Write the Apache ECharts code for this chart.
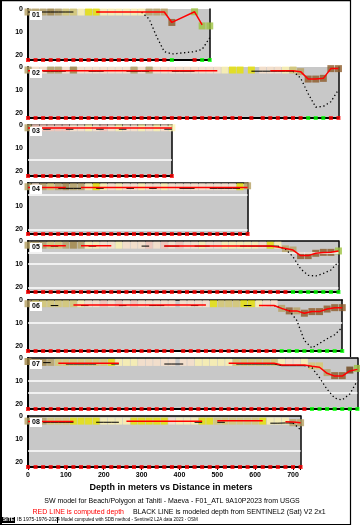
<!DOCTYPE html>
<html><head><meta charset="utf-8">
<script src="https://cdn.jsdelivr.net/npm/echarts@6/dist/echarts.min.js"></script>
<style>html,body{margin:0;padding:0;background:#fff}#c{width:360px;height:525px}</style>
</head><body><div id="c"></div>
<script>
// ---------- DATA ----------
const panelLabels = ['01','02','03','04','05','06','07','08'];
const panelExtent = [480, 820, 380, 580, 820, 830, 870, 720];
const xTickLabels = [0,100,200,300,400,500,600,700];
const yTickLabels = [0,10,20];

// Panel 1
const p1Dist  = [0,20,40,60,80,100,120,140,160,180,200,220,240,260,280,300,320,340,360,380,440,460,480];
const p1Col   = 'TTTDTKKPYYPPPPPPTTTBGGG';
const p1Depth = [1.3,1.3,1.3,1.3,1.3,1.3,1.3,1.3,1.3,1.3,1.3,1.3,1.3,1.3,1.3,1.3,1.3,1.3,1.3,5.8,1.2,7.3,7.3];
const p1Red   = [null,null,null,null,null,null,null,null,null,1.3,1.3,1.3,1.3,1.3,1.3,1.3,1.3,1.3,1.3,5.8,1.2,6.8,null];
const p1Model = [1.3,1.3,1.3,1.3,1.3,1.3,1.3,null,null,null,null,null,null,null,null,1.4,4.3,12,18.4,19.4,18.4,17.4,12.4];
const p1Bottom = 'rrrrrrrrrrrrrrrrrrrgrgg';
const p1White = [];

// Panel 2
const p2Dist  = [0,20,40,60,80,100,120,140,160,180,200,220,240,260,280,300,320,340,360,380,400,420,440,460,480,500,520,540,560,590,620,640,660,680,700,720,740,760,780,800,820];
const p2Col   = 'TEETTEDEEEEEEETETEEEEEEEEEPYYYEEEPKTBBBBB';
const p2Depth = [1.3,1.3,1.3,1.3,1.3,1.3,1.3,1.3,1.3,1.3,1.3,1.3,1.3,1.3,1.3,1.3,1.3,1.3,1.3,1.3,1.3,1.3,1.3,1.3,1.3,1.3,1.3,1.3,1.3,1.3,1.3,1.3,1.3,1.3,1.3,2.0,5.2,5.2,4.9,0.7,0.7];
const p2Red   = [1.6,1.6,1.6,1.6,1.6,1.6,1.6,1.6,1.6,1.6,1.6,1.6,1.6,1.6,1.6,1.6,1.6,1.6,1.6,1.6,1.6,1.6,1.6,1.6,1.6,1.6,null,null,null,null,null,1.6,1.6,1.6,1.6,2.0,5.2,5.2,4.9,0.7,0.7];
const p2Model = [null,null,1.8,1.8,1.8,1.8,null,null,1.8,1.8,1.8,null,null,1.8,1.8,1.8,1.8,null,null,1.8,1.8,1.8,1.8,null,null,null,null,null,null,1.8,1.8,1.8,1.8,1.8,1.8,4.8,11.5,17.3,17,15,9.8];
const p2Bottom = 'rrrrrrrrrrrrrrrrrrrrrrrrrrrrrrrrrrrrgggrr';
const p2White = [];

// Panel 3
const p3Dist  = [0,20,40,60,80,100,120,140,160,180,200,220,240,260,280,300,320,340,360,380];
const p3Col   = 'TSSSSSEEPESEPEEPEPEP';
const p3Depth = [1.2,1.2,1.2,1.2,1.2,1.2,1.2,1.2,1.2,1.2,1.2,1.2,1.2,1.2,1.2,1.2,1.2,1.2,1.2,1.2];
const p3Red   = [1.3,1.3,1.3,1.3,1.3,1.3,1.3,1.3,1.3,1.3,1.3,1.3,1.3,1.3,1.3,1.3,1.3,1.3,1.3,1.3];
const p3Model = [null,null,1.8,1.8,null,1.8,1.8,null,null,1.8,1.8,null,1.8,1.8,null,null,null,null,1.8,1.8];
const p3Bottom = 'rrrrrrrrrrrrrrrrrrrr';
const p3White = [15];

// Panel 4
const p4Dist  = [0,20,40,60,80,100,120,140,160,180,200,220,240,260,280,300,320,340,360,380,400,420,440,460,480,500,520,540,560,580];
const p4Col   = 'TETKTDTTPYPEPEEPEEPEEEEEEEEEYT';
const p4Depth = [1.6,1.6,1.6,1.6,1.6,1.6,1.6,1.6,1.6,1.6,1.6,1.6,1.6,1.6,1.6,1.6,1.6,1.6,1.6,1.6,1.6,1.6,1.6,1.6,1.6,1.6,1.6,1.6,1.6,1.2];
const p4Red   = [1.9,1.9,1.9,1.9,1.9,1.9,null,1.9,1.9,1.9,1.9,1.9,1.9,1.9,1.9,1.9,1.9,1.9,1.9,1.9,1.9,1.9,1.9,1.9,1.9,1.9,1.9,1.9,1.9,1.9];
const p4Model = [null,null,null,null,2.3,2.3,2.3,2.3,null,2.3,2.3,null,null,2.3,2.3,null,2.3,2.3,null,null,2.3,2.3,2.3,null,2.3,2.3,2.3,2.3,2.3,null];
const p4Bottom = 'rrrrrrrrrrrrrrrrrrrrrrrrrrrrrr';
const p4White = [5, 20];

// Panel 5
const p5Dist  = [0,20,40,60,80,100,120,140,160,180,200,220,240,260,280,300,320,340,360,380,400,420,440,460,480,500,520,540,560,580,600,620,640,660,680,700,720,740,760,780,800,820];
const p5Col   = 'TTTKKTDTPPEEPEEESESESEEPEEPPPPPEYPTTBBBBBG';
const p5Depth = [1.8,1.8,1.8,1.8,1.8,1.8,1.8,1.8,1.8,1.8,1.8,1.8,1.8,1.8,1.8,1.8,1.8,1.8,1.8,1.8,1.8,1.8,1.8,1.8,1.8,1.8,1.8,1.8,1.8,1.8,1.8,1.8,1.8,1.8,3.4,3.9,6.3,6.3,5.3,4.9,4.9,4.3];
const p5Red   = [null,null,2.0,2.0,2.0,2.0,null,2.0,2.0,2.0,2.0,2.0,null,null,null,null,null,null,2.2,2.2,2.2,2.2,2.2,2.2,2.2,2.2,2.2,2.2,2.2,2.2,2.2,2.2,2.2,2.6,3.2,3.9,6.3,6.3,5.3,5.0,4.9,4.3];
const p5Model = [null,null,null,2.2,2.2,null,null,null,2.2,2.2,null,null,null,null,null,2.2,2.2,null,2.2,2.2,2.2,null,2.2,2.2,2.2,null,null,null,2.2,2.2,2.2,2.2,2.2,2.2,3.5,6.8,12,14.8,15.1,14,12.5,9];
const p5Bottom = 'rrrrrrrrrrrrrrrrrrrrrrrrrrrrrrrrrrrggggggg';
const p5White = [5, 10, 20];

// Panel 6
const p6Dist  = [0,20,40,60,80,100,120,140,160,180,200,220,240,260,280,300,320,340,360,380,410,430,450,470,490,510,530,550,570,590,610,630,650,670,690,710,730,750,770,790,810,830];
const p6Col   = 'TKKKKKKPEESESESEEEEEEEEEYKKKYYPEETBTBBBBBB';
const p6Depth = [1.6,1.6,1.6,1.6,1.6,1.6,1.6,1.6,1.6,1.6,1.6,1.6,1.6,1.6,1.6,1.6,1.6,1.6,1.6,1.6,1.6,1.6,1.6,1.6,1.6,1.6,1.6,1.6,1.6,1.6,1.6,1.6,1.6,3.6,4.7,4.7,5.7,5.0,5.0,3.9,3.3,3.3];
const p6Red   = [null,null,null,null,null,null,2.2,2.2,2.2,2.2,2.2,2.2,2.2,2.2,2.2,2.2,2.2,2.2,2.2,2.2,2.2,2.2,2.2,2.2,null,null,null,null,null,null,2.4,2.4,2.4,3.6,4.7,4.7,5.7,5.0,5.0,3.9,3.3,3.3];
const p6Model = [null,null,null,2.4,2.4,null,null,2.4,2.4,null,null,null,2.4,2.4,null,null,2.4,2.4,2.4,null,null,2.4,2.4,null,null,null,null,null,2.4,2.4,null,2.4,2.4,3.6,4.6,8.8,17.5,20.7,18.7,16.7,15,11.8];
const p6Bottom = 'rrrrrrrrrrrrrrrrrrrrrrrrrrrrrrrrrggggggggg';
const p6White = [10];

// Panel 7
const p7Dist  = [0,20,40,60,80,100,120,140,160,180,200,220,240,260,280,300,320,340,360,380,410,430,450,470,490,510,530,550,570,590,610,630,650,670,690,710,730,750,770,790,810,830,850,870];
const p7Col   = 'DTDTKKKKKKKYPPPEEEEEEEPPPPPKKKKKKPEEPKKTBBXG';
const p7Depth = [1.5,1.9,1.9,1.9,1.9,1.9,1.9,1.9,1.9,1.9,1.9,1.9,1.9,1.9,1.9,1.9,1.9,1.9,1.9,1.9,1.9,1.9,1.9,1.9,1.9,1.9,1.9,1.9,1.9,1.9,1.9,1.9,1.9,1.9,1.9,1.9,1.9,3.4,3.4,6.3,7.6,7.6,5.2,4.5];
const p7Red   = [null,null,null,null,2.3,2.3,2.3,2.3,2.3,2.3,2.3,2.3,2.3,null,null,null,null,null,null,null,null,null,null,null,null,null,2.3,2.3,2.3,2.3,2.3,2.3,2.3,3.0,3.0,3.0,3.0,3.6,4.0,6.6,7.8,7.8,5.6,4.9];
const p7Model = [null,null,2.0,2.0,null,2.6,2.6,2.6,2.6,2.6,null,2.6,2.6,null,null,null,null,null,2.6,2.6,2.6,null,null,null,null,null,null,2.6,2.6,2.6,2.6,2.6,2.6,3.3,3.3,3.3,3.3,4.2,8.5,13.5,17.3,18.1,15.5,9.8];
const p7Bottom = 'rrrrrrrrrrrrrrrrrrrrrrrrrrrrrrrrrrrrrggggggg';
const p7White = [10, 15];

// Panel 8
const p8Dist  = [0,20,40,60,80,100,120,140,160,180,200,220,240,260,280,300,320,340,360,380,400,420,440,460,480,500,520,540,560,580,600,620,640,660,680,700,720];
const p8Col   = 'TTTKKKYYYYPPPPYYYYYEPPPYYKKKKKKYPPPTT';
const p8Depth = [2.2,2.2,2.2,2.2,2.2,2.2,2.2,2.2,2.2,2.2,2.2,2.2,2.2,2.2,2.2,2.2,2.2,2.2,2.2,2.2,2.2,2.2,2.2,2.2,2.2,2.2,2.2,2.2,2.2,2.2,2.2,2.2,2.2,2.2,2.2,2.9,2.9];
const p8Red   = [2.4,2.4,2.4,2.4,2.4,2.4,2.4,null,null,null,null,null,null,2.3,2.3,2.3,2.3,2.3,2.3,2.3,2.3,2.3,2.3,2.3,null,2.1,2.1,2.1,2.1,2.1,2.1,2.1,null,null,2.5,2.6,2.9];
const p8Model = [null,null,2.7,2.7,2.7,2.7,2.7,null,null,2.7,2.7,2.7,2.7,null,null,null,null,null,null,null,null,null,2.7,2.7,null,2.7,2.7,null,null,null,null,null,3.1,3.1,3.0,3.0,6.0];
const p8Bottom = 'rrrrrrrrrrrrrrrrrrrrrrrrrrrrrrrrrrrrr';
const p8White = [15];

const footTitle = 'Depth in meters vs Distance in meters';
const footSub = 'SW model for Beach/Polygon at Tahiti - Maeva - F01_ATL 9A10P2023 from USGS';
const footRed = 'RED LINE is computed depth';
const footBlack = 'BLACK LINE is modeled depth from SENTINEL2 (Sat) V2 2x1';
const footSite = 'SITE';
const footId = 'IB 1975-1976-2024';
const footSmall = 'Model computed with SDB method - Sentinel2 L2A data 2023 - OSM';

// ---------- BUILD ----------
const panels = [
  {dist:p1Dist,col:p1Col,depth:p1Depth,red:p1Red,model:p1Model,bottom:p1Bottom,white:p1White},
  {dist:p2Dist,col:p2Col,depth:p2Depth,red:p2Red,model:p2Model,bottom:p2Bottom,white:p2White},
  {dist:p3Dist,col:p3Col,depth:p3Depth,red:p3Red,model:p3Model,bottom:p3Bottom,white:p3White},
  {dist:p4Dist,col:p4Col,depth:p4Depth,red:p4Red,model:p4Model,bottom:p4Bottom,white:p4White},
  {dist:p5Dist,col:p5Col,depth:p5Depth,red:p5Red,model:p5Model,bottom:p5Bottom,white:p5White},
  {dist:p6Dist,col:p6Col,depth:p6Depth,red:p6Red,model:p6Model,bottom:p6Bottom,white:p6White},
  {dist:p7Dist,col:p7Col,depth:p7Depth,red:p7Red,model:p7Model,bottom:p7Bottom,white:p7White},
  {dist:p8Dist,col:p8Col,depth:p8Depth,red:p8Red,model:p8Model,bottom:p8Bottom,white:p8White}
];
const colorMap = {T:'#b5a062',D:'#a08444',B:'#8c5a28',X:'#6e4418',K:'#d6c86e',Y:'#e8e400',P:'#fff5b0',E:'#fde4cc',S:'#f8c6b8',G:'#9cc23e'};
const PX_PER_M = 0.3786;
const LEFT = 28;
const TOPS = [9,67,125,183,241,300,358,416];
const H = 51;
const DEPTH_MAX = 22;
const FONT = '"Liberation Sans", Arial, sans-serif';

const grids=[], xAxes=[], yAxes=[], series=[], graphics=[];
const deep = v => v !== null && v !== undefined && v >= 3.5;

panels.forEach((p,i)=>{
  const last = i === panels.length-1;
  const w = panelExtent[i]*PX_PER_M;
  grids.push({left:LEFT, top:TOPS[i], width:w, height:H, show:true, backgroundColor:'#c8c8c8', borderWidth:0});
  xAxes.push({gridIndex:i, type:'value', min:0, max:panelExtent[i], interval:100, position:'bottom',
    axisLine:{show:true,onZero:false,lineStyle:{color:'#000',width:2}},
    axisTick:{show:last,length:3,lineStyle:{color:'#000'}},
    axisLabel:{show:last,fontSize:7,fontWeight:'bold',color:'#000',margin:5,fontFamily:FONT,
      formatter:v=> xTickLabels.indexOf(v)>=0 ? String(v) : ''},
    splitLine:{show:false}});
  xAxes.push({gridIndex:i, type:'value', min:0, max:panelExtent[i], position:'top',
    axisLine:{show:i>=2,onZero:false,lineStyle:{color:'#000',width:1.5}},
    axisTick:{show:false}, axisLabel:{show:false}, splitLine:{show:false}});
  yAxes.push({gridIndex:i, type:'value', min:0, max:DEPTH_MAX, interval:10, inverse:true, position:'left',
    axisLine:{show:true,onZero:false,lineStyle:{color:'#000',width:2}},
    axisTick:{show:false},
    axisLabel:{fontSize:7,fontWeight:'bold',color:'#000',margin:5,fontFamily:FONT,
      formatter:v=> yTickLabels.indexOf(v)>=0 ? String(v) : ''},
    splitLine:{show:false}});
  yAxes.push({gridIndex:i, type:'value', min:0, max:DEPTH_MAX, inverse:true, position:'right',
    axisLine:{show:true,onZero:false,lineStyle:{color:'#000',width:1.5}},
    axisTick:{show:false}, axisLabel:{show:false}, splitLine:{show:false}});
  const xi = 2*i, yi = 2*i;

  series.push({type:'scatter', xAxisIndex:xi, yAxisIndex:yi, symbol:'rect', symbolSize:4, clip:false, z:3, silent:true,
    data:p.dist.map((d,k)=>({value:[d,DEPTH_MAX], itemStyle:{color: p.bottom[k]==='g' ? '#00ff00' : '#ff0000'}})),
    markLine:{silent:true, symbol:'none', label:{show:false}, animation:false,
      lineStyle:{color:'#ffffff',width:1.5,type:'solid'},
      data:p.white.map(v=>({yAxis:v}))}
  });
  series.push({type:'scatter', xAxisIndex:xi, yAxisIndex:yi, symbol:'rect', symbolSize:7, clip:false, z:4, silent:true,
    data:p.dist.map((d,k)=>({value:[d,p.depth[k]], itemStyle:{color: colorMap[p.col[k]]}}))});
  const solid = p.model.map((v,k)=> (v!==null && !deep(v)) ? [p.dist[k], v] : [p.dist[k], '-']);
  const dotted = p.model.map((v,k)=> (v!==null && (deep(v) || deep(p.model[k-1]) || deep(p.model[k+1]))) ? [p.dist[k], v] : [p.dist[k], '-']);
  series.push({type:'line', xAxisIndex:xi, yAxisIndex:yi, symbol:'none', z:5, silent:true, connectNulls:false,
    lineStyle:{color:'#000',width:1}, data:solid});
  series.push({type:'line', xAxisIndex:xi, yAxisIndex:yi, symbol:'none', z:5, silent:true, connectNulls:false,
    lineStyle:{color:'#000',width:1.3,type:[1.3,2.6]}, data:dotted});
  series.push({type:'line', xAxisIndex:xi, yAxisIndex:yi, symbol:'none', z:6, silent:true, connectNulls:false,
    lineStyle:{color:'#ff0000',width:1.5},
    data:p.red.map((v,k)=>[p.dist[k], v===null ? '-' : v])});

  graphics.push({type:'rect', shape:{x:30,y:TOPS[i]+2,width:12,height:9}, style:{fill:'#fff'}, z:100});
  graphics.push({type:'text', x:36, y:TOPS[i]+6.5, z:101,
    style:{text:panelLabels[i], fill:'#000', font:'bold 7px '+FONT, textAlign:'center', textVerticalAlign:'middle', align:'center', verticalAlign:'middle'}});
});

const line = (x1,y1,x2,y2,w)=>({type:'line', shape:{x1,y1,x2,y2}, style:{stroke:'#000',lineWidth:w}, z:0});
graphics.push(line(1,0,1,525,2));
graphics.push(line(0,0.5,351,0.5,1.5));
graphics.push(line(350.5,0,350.5,357,1.2));
graphics.push(line(350.5,410,350.5,525,1.2));
graphics.push(line(0,524.5,351,524.5,1.2));

const txt = (t,x,y,font,fill,align)=>({type:'text', x, y, z:50,
  style:{text:t, fill, font, textAlign:align, textVerticalAlign:'middle', align, verticalAlign:'middle'}});
graphics.push(txt(footTitle,171,488,'bold 9px '+FONT,'#000','center'));
graphics.push(txt(footSub,172,501,'7px '+FONT,'#000','center'));
graphics.push(txt(footRed,124,512,'7px '+FONT,'#ff0000','right'));
graphics.push(txt(footBlack,133,512,'7px '+FONT,'#000','left'));
graphics.push({type:'rect', shape:{x:2,y:517,width:13,height:6}, style:{fill:'#000'}, z:50});
graphics.push(txt(footSite,8.5,520,'bold 5px '+FONT,'#fff','center'));
graphics.push(txt(footId,17,520,'5px '+FONT,'#000','left'));
graphics.push(line(57.5,517,57.5,523,1));
graphics.push(txt(footSmall,61,520,'4.5px '+FONT,'#000','left'));

const chart = echarts.init(document.getElementById('c'), null, {renderer:'canvas'});
chart.setOption({
  animation:false,
  backgroundColor:'#fff',
  grid:grids, xAxis:xAxes, yAxis:yAxes, series:series, graphic:graphics
});
</script></body></html>
